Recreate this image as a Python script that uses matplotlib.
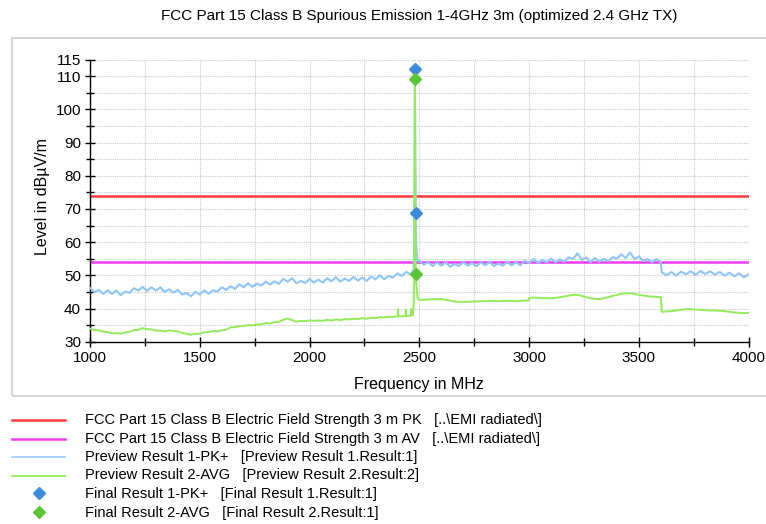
import matplotlib
matplotlib.use("Agg")
import matplotlib.pyplot as plt
import numpy as np
from matplotlib.lines import Line2D
from matplotlib.patches import Rectangle
from matplotlib.ticker import MultipleLocator, FixedLocator

plt.rcParams['font.family'] = ['Liberation Sans', 'DejaVu Sans']

# ---------------- data ----------------
title = "FCC Part 15 Class B Spurious Emission 1-4GHz 3m (optimized 2.4 GHz TX)"
x_label = "Frequency in MHz"
y_label = "Level in dBµV/m"

x_major_ticks = [1000, 1500, 2000, 2500, 3000, 3500, 4000]
y_major_ticks = [30, 40, 50, 60, 70, 80, 90, 100, 110, 115]

limit_pk = 74.0
limit_av = 54.0

# Preview Result 1-PK+ : grid segments (start, step) + extra points
pk_low_start, pk_low_step = 1000, 20
pk_low = [46.2, 44.9, 45.6, 44.4, 45.5, 44.4, 45.4, 44.0, 45.1, 44.7,
          46.1, 45.4, 46.5, 45.3, 46.4, 45.4, 46.4, 45.0, 45.8, 44.8,
          45.6, 44.2, 44.7, 43.7, 45.0, 44.2, 45.5, 44.4, 45.5, 45.1,
          46.4, 45.6, 46.7, 45.9, 47.3, 46.4, 47.6, 46.5, 47.5, 46.9,
          48.1, 47.2, 48.2, 47.4, 48.9, 48.1, 49.1, 47.6, 48.3, 47.7,
          48.9, 47.8, 48.7, 47.8, 49.1, 48.2, 49.4, 48.1, 49.0, 48.3,
          49.5, 48.4, 49.3, 48.3, 49.6, 48.8, 50.0, 48.8, 49.8, 49.3,
          50.6, 49.8, 51.0, 50.3]
pk_mid_start, pk_mid_step = 2500, 20
pk_mid = [54.4, 53.2, 53.9, 52.8, 53.9, 52.9, 53.9, 52.6, 53.4, 52.8,
          54.0, 52.9, 53.7, 52.7, 53.9, 53.0, 54.1, 52.8, 53.6, 52.9,
          54.1, 53.0, 53.9, 53.0, 54.4, 53.7, 54.9, 53.7, 54.6, 53.9,
          55.0, 53.9, 54.8, 54.1, 55.4, 54.9, 56.6, 54.6, 55.4, 54.0,
          55.2, 54.1, 55.0, 54.2, 55.5, 55.0, 56.3, 55.2, 56.9, 54.9,
          55.7, 54.3, 54.9, 53.9, 54.9, 53.9]
pk_high_start, pk_high_step = 3604, 22
pk_high = [50.9, 50.0, 51.0, 49.9, 51.1, 50.3, 51.2, 50.1, 51.3, 50.4,
           51.2, 50.2, 51.0, 49.9, 50.8, 49.7, 50.6, 49.4, 50.3]
pk_extra_freq = [2470, 2474, 2477, 2480, 2482, 2484, 2487, 2491, 2495]
pk_extra = [51.2, 51.6, 60.0, 112.1, 80.0, 62.0, 57.5, 55.0, 54.2]

# Preview Result 2-AVG
av_low_start, av_low_step = 1000, 20
av_low = [33.9, 33.5, 33.4, 33.0, 32.9, 32.5, 32.6, 32.4, 32.8, 33.0,
          33.5, 33.6, 34.1, 33.8, 33.7, 33.3, 33.4, 33.1, 33.4, 33.2,
          33.1, 32.6, 32.4, 32.1, 32.4, 32.4, 32.9, 32.9, 33.2, 33.1,
          33.4, 33.6, 34.3, 34.4, 34.7, 34.7, 35.0, 34.9, 35.2, 35.2,
          35.6, 35.5, 35.9, 36.0, 36.6, 37.0, 36.5, 36.0, 36.3, 36.2,
          36.4, 36.3, 36.4, 36.3, 36.6, 36.4, 36.7, 36.5, 36.8, 36.7,
          36.9, 36.8, 37.1, 36.9, 37.2, 37.1, 37.4, 37.3, 37.5, 37.5,
          37.7, 37.6, 37.8, 37.8]
av_mid_start, av_mid_step = 2500, 20
av_mid = [42.6, 42.6, 42.7, 42.8, 42.8, 42.8, 42.6, 42.4, 42.1, 42.0,
          42.0, 42.0, 42.1, 42.1, 42.2, 42.2, 42.3, 42.3, 42.2, 42.3,
          42.3, 42.3, 42.2, 42.3, 42.4, 43.2, 43.3, 43.2, 43.1, 43.1,
          43.1, 43.2, 43.4, 43.6, 43.9, 44.1, 44.1, 43.8, 43.4, 43.1,
          42.9, 42.8, 43.1, 43.4, 43.8, 44.1, 44.4, 44.6, 44.6, 44.4,
          44.1, 43.9, 43.7, 43.6, 43.5, 43.4]
av_high_start, av_high_step = 3604, 22
av_high = [39.0, 39.1, 39.2, 39.4, 39.6, 39.8, 39.8, 39.7, 39.6, 39.5,
           39.4, 39.4, 39.3, 39.2, 39.0, 38.8, 38.7, 38.6, 38.7]
av_extra_freq = [2402, 2403, 2404, 2438, 2439, 2441, 2462, 2464, 2466, 2470,
                 2474, 2477, 2480, 2482, 2484, 2487, 2491, 2495, 2997]
av_extra = [37.7, 39.8, 37.7, 37.8, 39.6, 37.8, 37.9, 39.9, 37.9, 38.0,
            40.5, 50.0, 109.0, 62.0, 50.5, 47.0, 43.5, 42.7, 42.4]

# Final results
final_pk_freq = [2480.0, 2483.5]
final_pk = [112.1, 68.7]
final_av_freq = [2480.0, 2483.5]
final_av = [109.0, 50.4]

legend_labels = [
    "FCC Part 15 Class B Electric Field Strength 3 m PK   [..\\EMI radiated\\]",
    "FCC Part 15 Class B Electric Field Strength 3 m AV   [..\\EMI radiated\\]",
    "Preview Result 1-PK+   [Preview Result 1.Result:1]",
    "Preview Result 2-AVG   [Preview Result 2.Result:2]",
    "Final Result 1-PK+   [Final Result 1.Result:1]",
    "Final Result 2-AVG   [Final Result 2.Result:1]",
]


def build(segs, extra_f, extra_v):
    f, v = [], []
    for start, step, vals in segs:
        f += [start + step * i for i in range(len(vals))]
        v += list(vals)
    f += list(extra_f)
    v += list(extra_v)
    f = np.array(f, dtype=float)
    v = np.array(v, dtype=float)
    o = np.argsort(f, kind="stable")
    return f[o], v[o]


pk_f, pk_v = build([(pk_low_start, pk_low_step, pk_low),
                    (pk_mid_start, pk_mid_step, pk_mid),
                    (pk_high_start, pk_high_step, pk_high)], pk_extra_freq, pk_extra)
av_f, av_v = build([(av_low_start, av_low_step, av_low),
                    (av_mid_start, av_mid_step, av_mid),
                    (av_high_start, av_high_step, av_high)], av_extra_freq, av_extra)

# ---------------- style ----------------
C_RED = "#ff3b3b"
C_MAG = "#f03cf0"
C_BLUE = "#8ec5fa"
C_GREEN = "#92ec5a"
C_FPK = "#3b8ddc"
C_FAV = "#5cc536"

W, H = 766, 524
fig = plt.figure(figsize=(W / 100, H / 100), dpi=100)

def fx(px):
    return px / W

def fy(py):
    return 1 - py / H

ax_l, ax_r, ax_t, ax_b = 90, 748.7, 59.5, 341.7
ax = fig.add_axes([fx(ax_l), fy(ax_b), fx(ax_r - ax_l), (ax_b - ax_t) / H])

# outer frame
fig.patches.append(Rectangle((fx(12), fy(396)), fx(770 - 12), (396 - 38) / H,
                             fill=False, edgecolor="#d6d6d6", lw=1.5,
                             transform=fig.transFigure, figure=fig))

ax.set_xlim(1000, 4000)
ax.set_ylim(30, 115)
ax.xaxis.set_major_locator(FixedLocator(x_major_ticks))
ax.xaxis.set_minor_locator(MultipleLocator(250))
ax.yaxis.set_major_locator(FixedLocator(y_major_ticks))
ax.yaxis.set_minor_locator(FixedLocator([35, 45, 55, 65, 75, 85, 95, 105]))
ax.grid(True, which="both", color="#c8c8c8", linestyle=(0, (1, 1)), lw=0.8)
ax.set_axisbelow(True)
for s in ("top", "right"):
    ax.spines[s].set_visible(False)
for s in ("left", "bottom"):
    ax.spines[s].set_linewidth(1.0)
ax.tick_params(which="major", direction="inout", length=7, width=1, labelsize=11, pad=3)
ax.tick_params(which="minor", direction="inout", length=6, width=1)

ax.axhline(limit_pk, color=C_RED, lw=1.8, zorder=2)
ax.axhline(limit_av, color=C_MAG, lw=1.8, zorder=2)
ax.plot(pk_f, pk_v, color=C_BLUE, lw=1.5, zorder=3)
ax.plot(av_f, av_v, color=C_GREEN, lw=1.4, zorder=4)
ax.plot(final_pk_freq, final_pk, linestyle="none", marker="D", ms=6, color=C_FPK, zorder=5)
ax.plot(final_av_freq, final_av, linestyle="none", marker="D", ms=6, color=C_FAV, zorder=5)

fig.text(fx((ax_l + ax_r) / 2), fy(16), title, ha="center", va="center", fontsize=11)
ax.set_xlabel(x_label, fontsize=11.5)
ax.xaxis.set_label_coords(0.5, (ax_b - 384) / (ax_b - ax_t))
ax.xaxis.label.set_va("center")
ax.set_ylabel(y_label, fontsize=11.5)
ax.yaxis.set_label_coords((42 - ax_l) / (ax_r - ax_l), (ax_b - 197) / (ax_b - ax_t))
ax.yaxis.label.set_va("center")

# legend (drawn manually)
rows_y = [420, 438.5, 457, 475.5, 494, 512.5]
styles = [("line", C_RED, 1.8), ("line", C_MAG, 1.8), ("line", C_BLUE, 1.1),
          ("line", C_GREEN, 1.3), ("marker", C_FPK, 0), ("marker", C_FAV, 0)]
for (kind, col, lw), lab, y in zip(styles, legend_labels, rows_y):
    if kind == "line":
        fig.lines.append(Line2D([fx(12), fx(65)], [fy(y), fy(y)], color=col, lw=lw,
                                transform=fig.transFigure, figure=fig))
    else:
        fig.lines.append(Line2D([fx(38.5)], [fy(y - 1)], marker="D", ms=6, color=col,
                                linestyle="none", transform=fig.transFigure, figure=fig))
    fig.text(fx(85), fy(y), lab, ha="left", va="center", fontsize=10.5)

fig.savefig("out.png", dpi=100)
